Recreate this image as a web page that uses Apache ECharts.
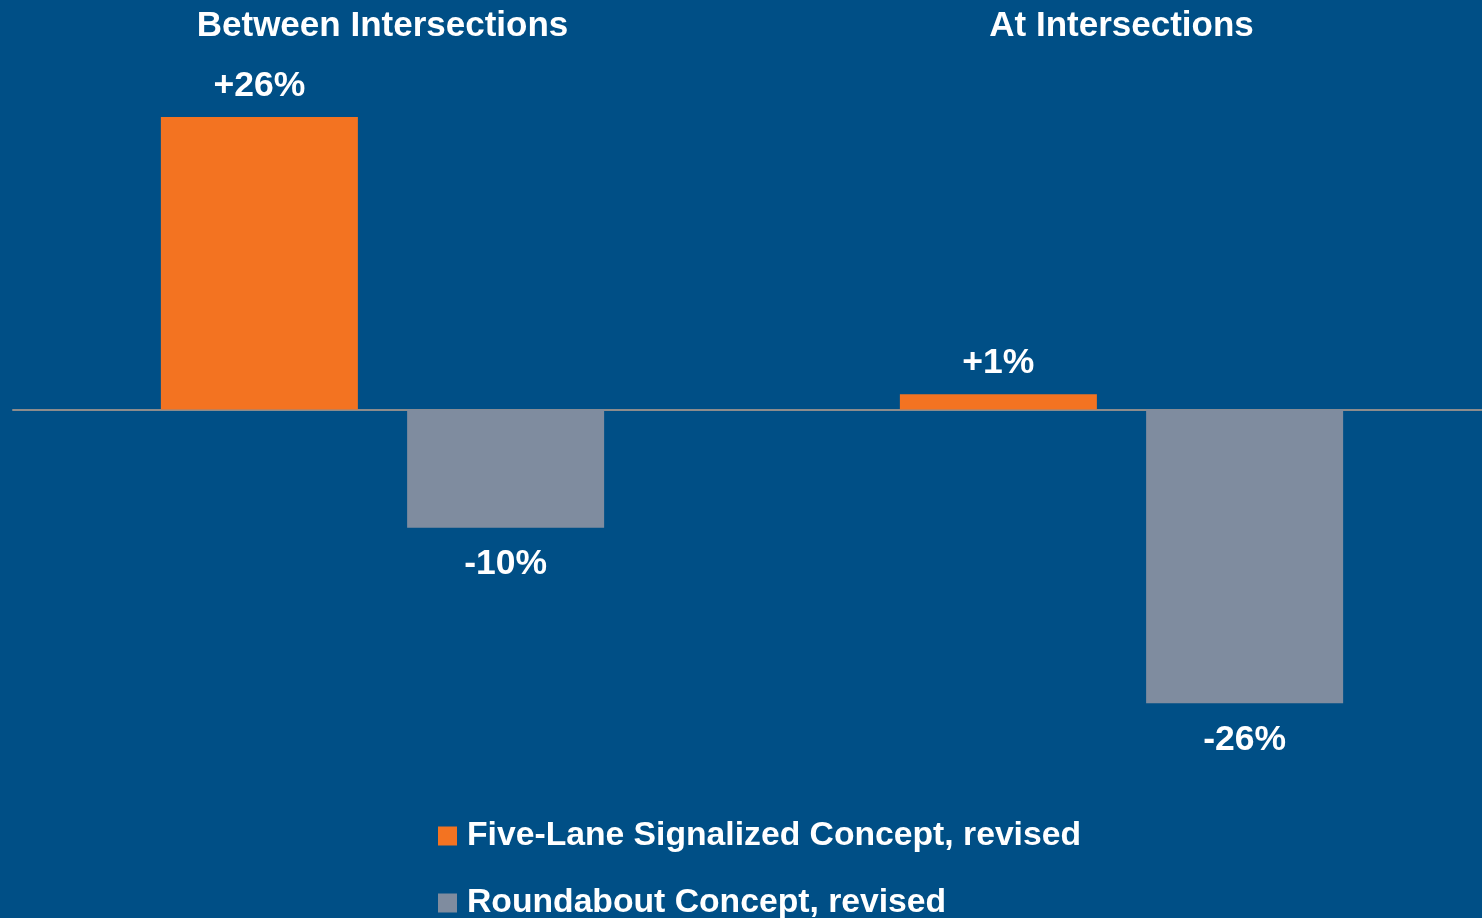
<!DOCTYPE html>
<html>
<head>
<meta charset="utf-8">
<title>Crash change chart</title>
<script src="https://cdn.jsdelivr.net/npm/echarts@6/dist/echarts.min.js"></script>
<style>
  html, body { margin: 0; padding: 0; background: #004f86; }
  #div_echarts { width: 1482px; height: 918px; }
</style>
</head>
<body>
<div id="div_echarts"></div>
<script>
// chart data
var categories = ['Between Intersections', 'At Intersections'];
var seriesNames = ['Five-Lane Signalized Concept, revised', 'Roundabout Concept, revised'];
var fiveLaneValues = [26, 1.35];
var roundaboutValues = [-10.5, -26.1];
var fiveLaneLabels = ['+26%', '+1%'];
var roundaboutLabels = ['-10%', '-26%'];

var FONT = "'Liberation Sans', Arial, sans-serif";

// one legend per series so they stack like the original
var makeLegend = function (name, top) {
    return {
        orient: 'vertical',
        left: 438,
        top: top,
        padding: 0,
        itemWidth: 19,
        itemHeight: 19,
        icon: 'rect',
        textStyle: {
            color: '#ffffff', fontSize: 33.7, fontWeight: 'bold', fontFamily: FONT,
            lineHeight: 36, padding: [0, 0, 0, 5]
        },
        data: [name]
    };
};

var initEcharts = function () {
    var myChart = echarts.init(document.getElementById('div_echarts'));
    var option = {
        backgroundColor: '#004f86',
        animation: false,
        legend: [
            makeLegend(seriesNames[0], 818),
            makeLegend(seriesNames[1], 885)
        ],
        grid: { left: 13, top: 72, width: 1478, height: 675, outerBoundsMode: 'none' },
        xAxis: [
            {
                type: 'category',
                data: categories,
                axisLine: { onZero: true, lineStyle: { color: '#8c8c8c', width: 2 } },
                axisTick: { show: false },
                axisLabel: { show: false }
            },
            {
                type: 'category',
                position: 'top',
                data: categories,
                axisLine: { show: false },
                axisTick: { show: false },
                axisLabel: {
                    color: '#ffffff', fontSize: 35, fontWeight: 'bold', fontFamily: FONT, margin: 28
                }
            }
        ],
        yAxis: {
            type: 'value',
            min: -30,
            max: 30,
            show: false,
            splitLine: { show: false }
        },
        series: [
            {
                name: seriesNames[0],
                type: 'bar',
                data: fiveLaneValues,
                barWidth: 197,
                barGap: '25%',
                itemStyle: { color: '#f37321' },
                label: {
                    show: true,
                    position: 'top',
                    distance: 13,
                    color: '#ffffff', fontSize: 35.5, fontWeight: 'bold', fontFamily: FONT,
                    formatter: function (p) { return fiveLaneLabels[p.dataIndex]; }
                }
            },
            {
                name: seriesNames[1],
                type: 'bar',
                data: roundaboutValues,
                barWidth: 197,
                itemStyle: { color: '#7f8c9f' },
                label: {
                    show: true,
                    position: 'bottom',
                    distance: 19,
                    color: '#ffffff', fontSize: 35.5, fontWeight: 'bold', fontFamily: FONT,
                    formatter: function (p) { return roundaboutLabels[p.dataIndex]; }
                }
            }
        ]
    };
    myChart.setOption(option);
};

initEcharts();
</script>
</body>
</html>
